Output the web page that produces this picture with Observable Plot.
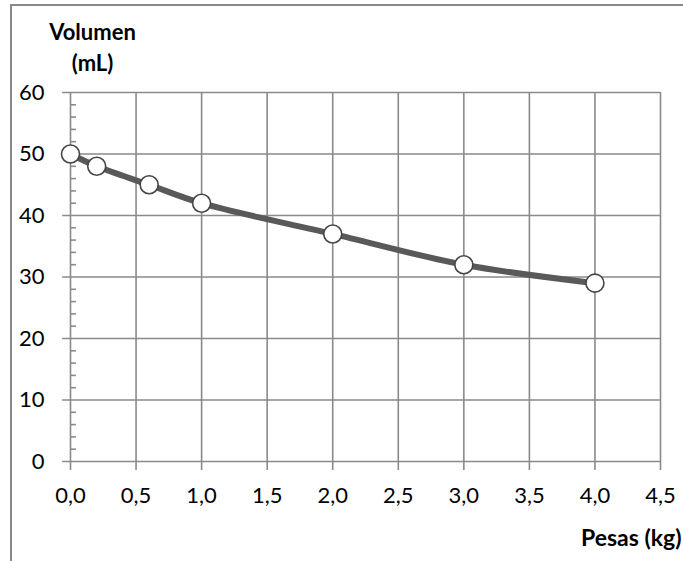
<!DOCTYPE html>
<html>
<head>
<meta charset="utf-8">
<script src="https://cdn.jsdelivr.net/npm/d3@7"></script>
<script src="https://cdn.jsdelivr.net/npm/@observablehq/plot@0.6"></script>
<style>
  html, body { margin: 0; padding: 0; background: #fff; }
  #wrap { position: relative; width: 683px; height: 561px; overflow: hidden; }
  #border { position: absolute; left: 10px; top: 4px; width: 700px; height: 600px;
            border-top: 2px solid #888; border-left: 2px solid #888; box-sizing: border-box; }
  #chart { position: absolute; left: 0; top: 0; }
</style>
</head>
<body>
<div id="wrap"><div id="border"></div><div id="chart"></div></div>
<script>
const pesas = [0, 0.2, 0.6, 1.0, 2.0, 3.0, 4.0];
const volumen = [50, 48, 45, 42, 37, 32, 29];
const xTicks = [0, 0.5, 1, 1.5, 2, 2.5, 3, 3.5, 4, 4.5];
const yTicks = [0, 10, 20, 30, 40, 50, 60];
const yMinor = d3.range(0, 60, 2).filter(v => v % 10 !== 0);
const xTitle = "Pesas (kg)";
const yTitle1 = "Volumen";
const yTitle2 = "(mL)";

const data = pesas.map((x, i) => ({x, y: volumen[i]}));
const grid = "#8a8a8a";
const font = "Lato, 'Open Sans', sans-serif";

const chart = Plot.plot({
  width: 683,
  height: 561,
  marginLeft: 70,
  marginRight: 23,
  marginTop: 92,
  marginBottom: 100,
  style: {fontFamily: font, background: "transparent", color: "#000"},
  x: {domain: [0, 4.5]},
  y: {domain: [0, 60]},
  marks: [
    Plot.ruleX(xTicks, {y1: -1.45, y2: 60, stroke: grid, strokeWidth: 1.6}),
    Plot.ruleY(yTicks, {x1: -0.06, x2: 4.5, stroke: grid, strokeWidth: 1.6}),
    Plot.ruleY(yMinor, {x1: 0, x2: 0.045, stroke: grid, strokeWidth: 1.6}),
    Plot.axisX(xTicks, {tickSize: 0, tickPadding: 26, fontSize: 22, stroke: null,
      tickFormat: d => d.toFixed(1).replace(".", ","), label: null}),
    Plot.axisY(yTicks, {tickSize: 0, tickPadding: 26, fontSize: 22, stroke: null,
      tickFormat: d => String(d), label: null}),
    Plot.line(data, {x: "x", y: "y", curve: "catmull-rom", stroke: "#595959", strokeWidth: 6}),
    Plot.dot(data, {x: "x", y: "y", r: 9, fill: "white", stroke: "#454545", strokeWidth: 1.6}),
    Plot.text([yTitle1], {frameAnchor: "top-left", dx: 22, dy: -60, text: d => d,
      fontSize: 22, fontWeight: "bold", textAnchor: "middle", lineAnchor: "middle"}),
    Plot.text([yTitle2], {frameAnchor: "top-left", dx: 22, dy: -29, text: d => d,
      fontSize: 22, fontWeight: "bold", textAnchor: "middle", lineAnchor: "middle"}),
    Plot.text([xTitle], {frameAnchor: "bottom-right", dx: 21, dy: 77, text: d => d,
      fontSize: 23, fontWeight: "bold", textAnchor: "end", lineAnchor: "middle"})
  ]
});
document.getElementById("chart").appendChild(chart);
</script>
</body>
</html>
